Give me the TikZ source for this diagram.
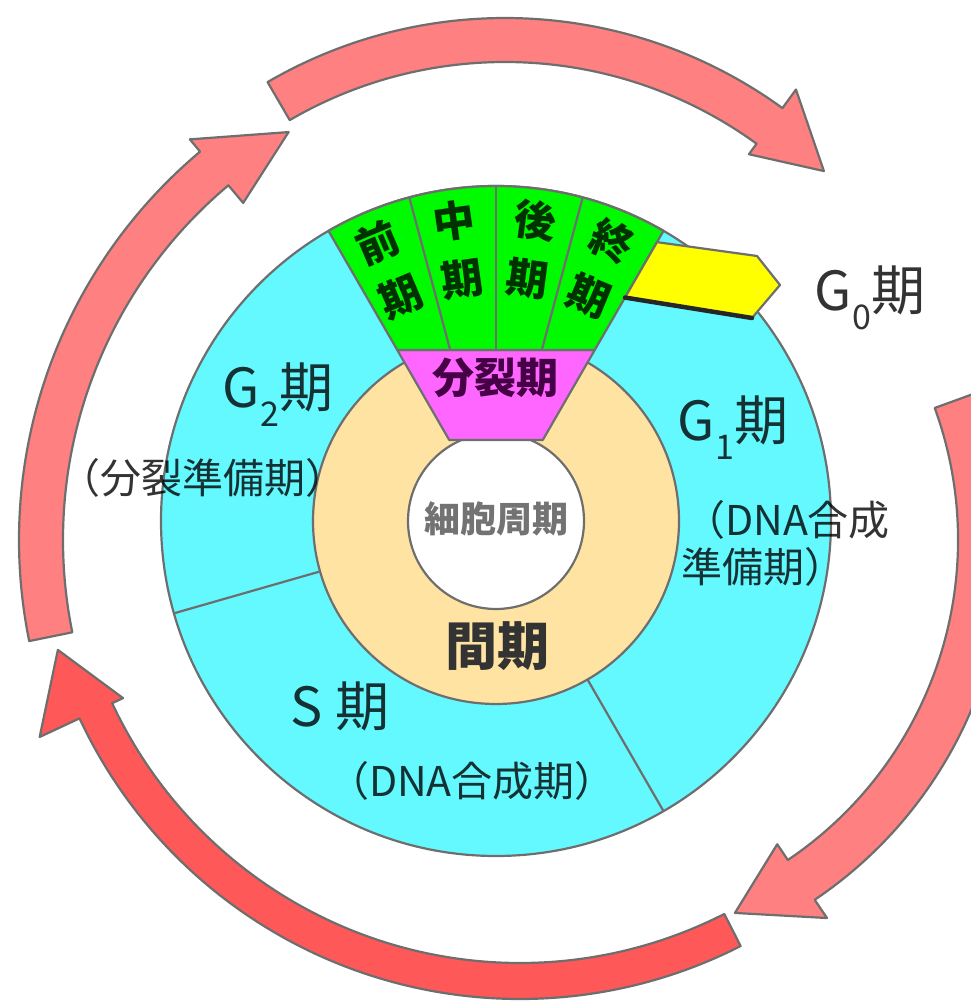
\documentclass[tikz,border=0pt]{standalone}
\usepackage{fontspec}
\setmainfont{Noto Sans CJK JP}
\usetikzlibrary{calc}
\definecolor{salmonc}{RGB}{255,128,128}
\definecolor{redc}{RGB}{255,88,88}
\definecolor{cyanc}{RGB}{100,248,255}
\definecolor{tanc}{RGB}{255,227,162}
\definecolor{greenc}{RGB}{0,250,0}
\definecolor{magc}{RGB}{255,102,255}
\definecolor{yellc}{RGB}{255,255,0}
\definecolor{edgec}{RGB}{110,110,110}
\definecolor{wtext}{RGB}{0,50,0}
\definecolor{mtext}{RGB}{70,0,70}
\newcommand{\lowsub}[1]{\raisebox{-0.35em}{\fontsize{34}{34}\selectfont #1}}
% #1 colour, #2 centre, #3 r in, #4 r out, #5 tail angle, #6 head-base angle, #7 barb in, #8 barb out, #9 tip (angle:radius)
\newcommand{\arcarrow}[9][salmonc]{%
  \filldraw[arrowline, fill=#1] ($(#2)+(#5:#4)$) arc[start angle=#5, end angle=#6, radius=#4]
    -- ($(#2)+(#6:#8)$) -- ($(#2)+(#9)$) -- ($(#2)+(#6:#7)$) -- ($(#2)+(#6:#3)$)
    arc[start angle=#6, end angle=#5, radius=#3] -- cycle;}
\tikzset{
  arrowline/.style={draw=edgec, line width=2.2pt, line join=round},
  ring/.style={draw=edgec, line width=2.2pt, line join=round},
  big/.style={font=\fontsize{54}{54}\selectfont, text opacity=0.8, inner sep=0},
  mid/.style={font=\fontsize{41}{41}\selectfont, text opacity=0.8, inner sep=0},
  wedgetxt/.style={font=\fontsize{42}{42}\selectfont\bfseries, text=wtext, inner sep=0},
}
\begin{document}
\begin{tikzpicture}[x=1pt,y=1pt]
\useasboundingbox (0,0) rectangle (970,1001);
\coordinate (C) at (496,480);
\coordinate (AT) at (505,511);
\coordinate (AR) at (572,461);
\coordinate (AL) at (526,461);
\coordinate (AB) at (520,488);

% cycle arrows
\arcarrow[redc]{AB}{450}{486}{-63}{-155}{438}{530}{196.5:482}
\arcarrow{AT}{428}{472}{120.2}{54}{415}{495}{45:451}
\arcarrow{AR}{386}{434}{20}{-56}{367}{456}{-66.4:407}
\arcarrow{AL}{463}{507}{191.5}{130}{440}{523}{120.2:472}

% rings
\filldraw[ring, fill=cyanc] (C) circle[radius=335];
\draw[ring] ($(C)+(196:183)$) -- ($(C)+(196:335)$);
\draw[ring] ($(C)+(-60:183)$) -- ($(C)+(-60:335)$);
\filldraw[ring, fill=tanc] (C) circle[radius=183];
\filldraw[ring, fill=white] (C) circle[radius=88];

% M phase
\filldraw[ring, fill=magc] ($(C)+(120:197.5)$) -- ($(C)+(60:197.5)$) -- ($(C)+(60:93.5)$) -- ($(C)+(120:93.5)$) -- cycle;
\filldraw[ring, fill=greenc] ($(C)+(60:197.5)$) -- ($(C)+(60:335)$) arc[start angle=60, end angle=120, radius=335] -- ($(C)+(120:197.5)$) -- cycle;
\draw[ring] ($(C)+(105:177)$) -- ($(C)+(105:335)$);
\draw[ring] ($(C)+(90:171)$) -- ($(C)+(90:335)$);
\draw[ring] ($(C)+(75:177)$) -- ($(C)+(75:335)$);

% G0
\coordinate (y1) at ($(C)+(60:258)$);
\coordinate (y2) at ($(C)+(60:322)$);
\coordinate (y3) at (757,745);
\coordinate (y4) at (780,716);
\coordinate (y5) at (752,683);
\filldraw[ring, fill=yellc] (y1) -- (y2) -- (y3) -- (y4) -- (y5) -- cycle;
\draw[line width=4.5pt, black!85, line cap=round] (y1) -- (y5);

% wedge labels
\foreach \a/\ch [count=\i] in {113/前,98/中,82.5/後,67.5/終}{
  \node[wedgetxt, rotate=\a-90] (w\i a) at ($(C)+(\a:303)$) {\ch};
  \node[wedgetxt, rotate=\a-90] (w\i b) at ($(C)+(\a:244)$) {期};
}
\node[font=\fontsize{42}{42}\selectfont\bfseries, text=mtext, inner sep=0] (mph) at (495,623) {分裂期};
\node[font=\fontsize{36}{36}\selectfont\bfseries, text=black!55, inner sep=0] (cyc) at (496,482) {細胞周期};
\node[font=\fontsize{52}{52}\selectfont\bfseries, text=black!80, inner sep=0] (inter) at (497,355) {間期};

% interphase labels
\node[big] (g2) at (278,606) {G\lowsub{2}期};
\node[mid] (g2s) at (203,523) {（分裂準備期）};
\node[big] (g1) at (733,573) {G\lowsub{1}期};
\node[mid, anchor=west] (g1s) at (684,481) {（DNA合成};
\node[mid, anchor=west] (g1t) at (681,434) {準備期）};
\node[big] (sph) at (340,295) {S 期};
\node[mid] (sphs) at (472,220) {（DNA合成期）};
\node[big] (g0) at (870,703) {G\lowsub{0}期};
\end{tikzpicture}
\end{document}
